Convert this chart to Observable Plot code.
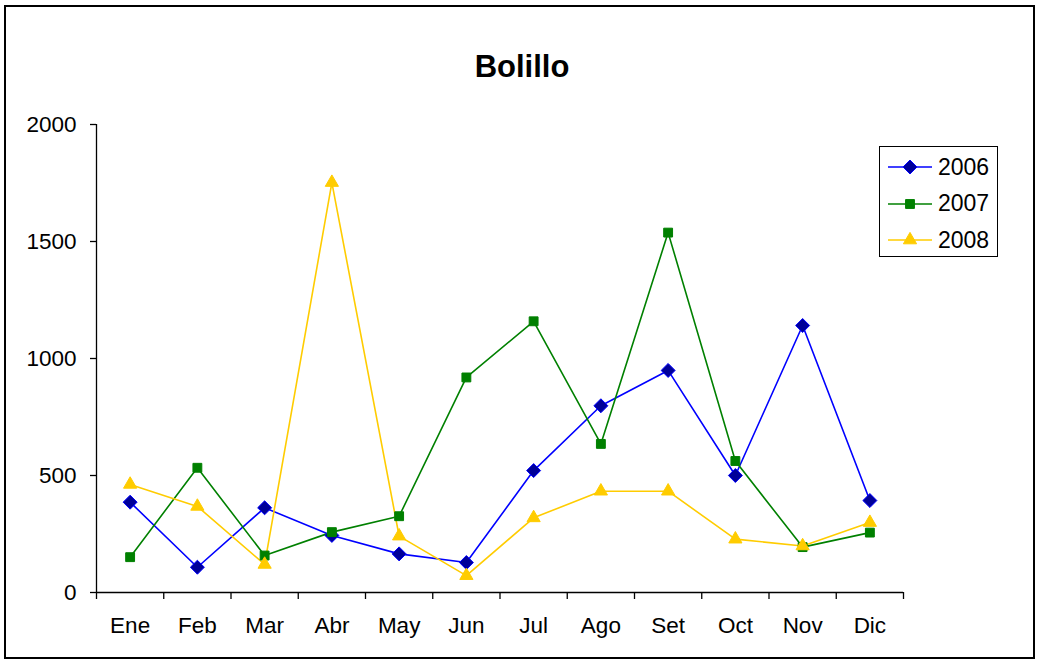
<!DOCTYPE html>
<html>
<head>
<meta charset="utf-8">
<script src="https://cdn.jsdelivr.net/npm/d3@7"></script>
<script src="https://cdn.jsdelivr.net/npm/@observablehq/plot@0.6"></script>
<style>
  html, body { margin: 0; padding: 0; background: #fff; }
  body { font-family: "Liberation Sans", Arial, sans-serif; }
  #wrap { position: relative; width: 1037px; height: 662px; overflow: hidden; }
  #frame { position: absolute; left: 4px; top: 5px; width: 1031px; height: 654px; box-sizing: border-box; border: 2px solid #000; pointer-events: none; }
  #title { position: absolute; left: 0; top: 51px; width: 1044px; text-align: center; font-weight: bold; font-size: 31px; line-height: 31px; color: #000; }
  #legend { position: absolute; left: 879px; top: 146px; width: 119px; height: 111px; box-sizing: border-box; border: 1.5px solid #000; background: #fff; }
  .item { position: absolute; left: 7px; height: 24px; display: flex; align-items: center; font-size: 23px; color: #000; }
  .item svg { margin-right: 5px; }
  #chart { position: absolute; left: 0; top: 0; }
</style>
</head>
<body>
<div id="wrap">
  <div id="chart"></div>
  <div id="title"></div>
  <div id="legend"></div>
  <div id="frame"></div>
</div>
<script>
const title = "Bolillo";
const months = ["Ene", "Feb", "Mar", "Abr", "May", "Jun", "Jul", "Ago", "Set", "Oct", "Nov", "Dic"];
const seriesNames = ["2006", "2007", "2008"];
const v2006 = [386, 108, 362, 244, 165, 128, 521, 798, 949, 500, 1141, 393];
const v2007 = [151, 533, 158, 258, 326, 919, 1159, 635, 1538, 562, 194, 256];
const v2008 = [462, 368, 120, 1752, 241, 72, 319, 433, 433, 228, 199, 299];
const yTicks = [0, 500, 1000, 1500, 2000];

const styles = {
  "2006": {stroke: "#0000FF", fill: "#000099", symbol: "diamond2", r: 6.3},
  "2007": {stroke: "#008000", fill: "#008000", symbol: "square", r: 5.0},
  "2008": {stroke: "#FFCC00", fill: "#FFCC00", symbol: "triangle", r: 4.9}
};

const values = {"2006": v2006, "2007": v2007, "2008": v2008};
const rows = seriesNames.map(s => values[s].map((v, i) => ({series: s, i, month: months[i], value: v})));

const marks = [
  Plot.ruleY([0], {stroke: "#000", strokeWidth: 1.3}),
  Plot.ruleX([0], {y1: yTicks[0], y2: yTicks[yTicks.length - 1], stroke: "#000", strokeWidth: 1.3}),
  Plot.axisY({ticks: yTicks, tickSize: 6, tickPadding: 14, tickFormat: d => String(d), strokeWidth: 1.3, fontSize: 22.5, label: null}),
  Plot.axisX({ticks: d3.range(months.length + 1), tickSize: 7, tickFormat: () => "", strokeWidth: 1.3, label: null}),
  Plot.axisX({ticks: months.map((m, i) => i + 0.5), tickSize: 0, tickPadding: 25, tickFormat: d => months[Math.round(d - 0.5)], fontSize: 22.5, label: null})
];

rows.forEach((data, k) => {
  const st = styles[seriesNames[k]];
  marks.push(Plot.line(data, {x: d => d.i + 0.5, y: "value", stroke: st.stroke, strokeWidth: 1.6}));
});
rows.forEach((data, k) => {
  const st = styles[seriesNames[k]];
  marks.push(Plot.dot(data, {x: d => d.i + 0.5, y: "value", symbol: st.symbol, r: st.r, fill: st.fill, stroke: st.stroke, strokeWidth: 1}));
});

const chart = Plot.plot({
  width: 1037,
  height: 662,
  marginLeft: 96,
  marginRight: 134,
  marginTop: 124,
  marginBottom: 70,
  style: {fontFamily: "'Liberation Sans', Arial, sans-serif", fontSize: "22.5px", color: "#000", background: "transparent"},
  x: {type: "linear", domain: [0, months.length], axis: null},
  y: {type: "linear", domain: [yTicks[0], yTicks[yTicks.length - 1]], axis: null},
  marks
});
document.getElementById("chart").appendChild(chart);
document.getElementById("title").textContent = title;

// Legend
const legend = document.getElementById("legend");
const symPaths = {};
seriesNames.forEach(s => {
  const st = styles[s];
  const type = {diamond2: d3.symbolDiamond2, square: d3.symbolSquare, triangle: d3.symbolTriangle}[st.symbol];
  symPaths[s] = d3.symbol(type, Math.PI * st.r * st.r)();
});
seriesNames.forEach((s, k) => {
  const st = styles[s];
  const item = document.createElement("div");
  item.className = "item";
  item.style.top = (8 + k * 36.7) + "px";
  item.innerHTML = `<svg width="46" height="20" viewBox="0 0 46 20">
    <line x1="1" x2="45" y1="10" y2="10" stroke="${st.stroke}" stroke-width="1.6"/>
    <path d="${symPaths[s]}" transform="translate(23,10)" fill="${st.fill}" stroke="${st.stroke}" stroke-width="1"/>
  </svg><span>${s}</span>`;
  legend.appendChild(item);
});
</script>
</body>
</html>
